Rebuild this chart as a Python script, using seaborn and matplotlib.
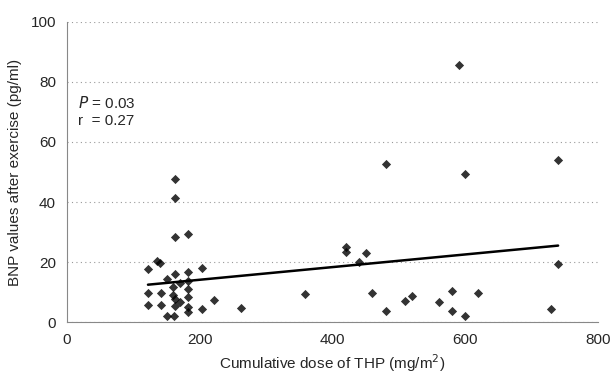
import numpy as np
import pandas as pd
import seaborn as sns
import matplotlib.pyplot as plt

# cumulative THP dose (mg/m2) and BNP after exercise (pg/ml)
dose = [162, 162, 162, 182, 135, 140, 122, 162, 182, 203, 150, 170, 182, 160,
        182, 122, 141, 160, 170, 162, 182, 122, 141, 162, 182, 182, 203, 222,
        262, 150, 161, 358,
        591, 481, 740, 600, 420, 420, 451, 440, 740, 460, 481, 510, 520, 560,
        580, 580, 600, 620, 730]
bnp = [47.6, 41.2, 28.4, 29.3, 20.4, 19.8, 17.7, 15.9, 16.8, 17.9, 14.3, 13.1,
       13.8, 11.6, 11.1, 9.6, 9.6, 9.0, 6.8, 7.6, 8.2, 5.7, 5.7, 5.3, 5.1, 3.4,
       4.3, 7.3, 4.6, 2.1, 2.1, 9.3,
       85.7, 52.6, 54.1, 49.2, 25.1, 23.2, 22.9, 20.1, 19.3, 9.6, 3.7, 7.0,
       8.7, 6.6, 10.3, 3.7, 2.0, 9.6, 4.3]

df = pd.DataFrame({"dose": dose, "bnp": bnp})

sns.set_style("white")
plt.rcParams['font.family'] = ['Liberation Sans', 'DejaVu Sans']

fig = plt.figure(figsize=(6.12, 3.78), dpi=100)
ax = fig.add_axes([0.1095, 0.148, 0.8675, 0.794])

sns.regplot(data=df, x="dose", y="bnp", ci=None, ax=ax,
            marker="D", color="black",
            scatter_kws={"s": 22, "linewidths": 0},
            line_kws={"lw": 1.8})

ax.set_xlim(0, 800)
ax.set_ylim(0, 100)
ax.set_xticks([0, 200, 400, 600, 800])
ax.set_yticks([0, 20, 40, 60, 80, 100])
ax.yaxis.grid(True, linestyle=(0, (1, 3)), color="#999999", lw=0.8)
ax.xaxis.grid(False)
for s in ["top", "right"]:
    ax.spines[s].set_visible(False)
for s in ["left", "bottom"]:
    ax.spines[s].set_color("#888888")
    ax.spines[s].set_linewidth(0.8)
ax.tick_params(axis="both", labelsize=11, length=0, pad=8)

ax.set_xlabel("Cumulative dose of THP (mg/m$^2$)", fontsize=11, labelpad=4)
ax.set_ylabel("BNP values after exercise (pg/ml)", fontsize=11, labelpad=6)

ax.text(16, 73, "$P$ = 0.03", fontsize=11, va="center")
ax.text(16, 67, "r  = 0.27", fontsize=11, va="center")

fig.savefig("out.png", dpi=100)
